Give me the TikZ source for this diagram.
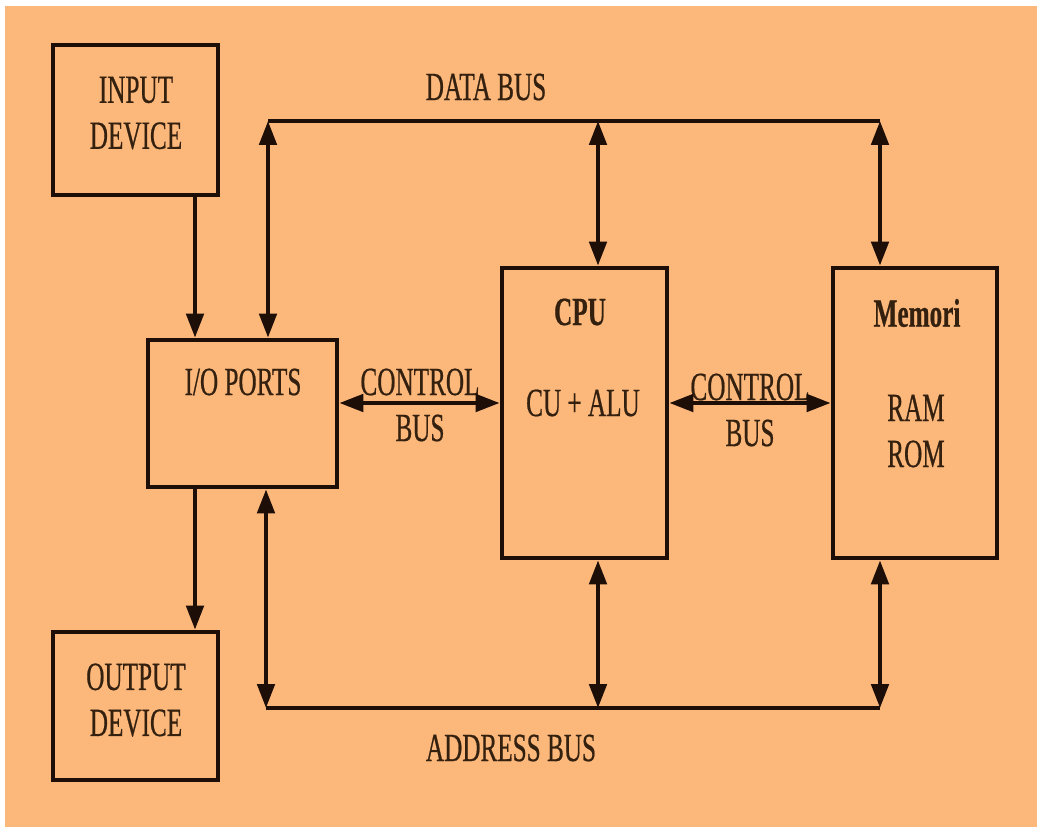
\documentclass[tikz,border=0pt]{standalone}
\usepackage{fontspec}
\setmainfont{Liberation Serif}[FakeStretch=0.63,FakeBold=0.5]
\usepackage{tikz}
\usetikzlibrary{arrows.meta}
\definecolor{paper}{HTML}{FCB77B}
\definecolor{ink}{HTML}{1E0E08}
\definecolor{txt}{HTML}{33200F}
\tikzstyle{box}=[rectangle, draw=ink, line width=3.6pt, inner sep=0pt]
\tikzstyle{lbl}=[text=txt, align=center, inner sep=0pt, font=\fontsize{30}{34.5}\selectfont]
\tikzstyle{bus}=[draw=ink, line width=3pt]
\tikzstyle{link}=[bus, -{Triangle[length=18pt,width=13pt]}]
\tikzstyle{dlink}=[bus, {Triangle[length=18pt,width=13pt]}-{Triangle[length=18pt,width=13pt]}]

\begin{document}
\begin{tikzpicture}[x=0.75pt,y=-0.75pt]
	%The background
	\fill[white] (0,0) rectangle (1039,830);
	\fill[paper] (5,6) rectangle (1037,827);
	\useasboundingbox (0,0) rectangle (1039,830);

	%The units
	\draw (135.5,120) node[box, minimum width=123.75pt, minimum height=112.5pt] (inp) {};
	\draw (242.5,413.5) node[box, minimum width=141.75pt, minimum height=110.25pt] (io) {};
	\draw (584.5,413) node[box, minimum width=123.75pt, minimum height=217.5pt] (cpu) {};
	\draw (915,413) node[box, minimum width=123pt, minimum height=217.5pt] (mem) {};
	\draw (135.5,706) node[box, minimum width=123.75pt, minimum height=111pt] (out) {};

	%The texts
	\draw (136,113) node[lbl] (t-inp) {INPUT\\DEVICE};
	\draw (243,382) node[lbl] (t-io) {I/O PORTS};
	\draw (580,312) node[lbl] (t-cpu) {\textbf{CPU}};
	\draw (583,403) node[lbl] (t-alu) {CU + ALU};
	\draw (917,313) node[lbl] (t-mem) {\textbf{Memori}};
	\draw (916,431) node[lbl] (t-ram) {RAM\\ROM};
	\draw (136,700) node[lbl] (t-out) {OUTPUT\\DEVICE};
	\draw (420,405) node[lbl] (t-c1) {CONTROL\\BUS};
	\draw (750,410) node[lbl] (t-c2) {CONTROL\\BUS};
	\draw (486,87) node[lbl] (t-data) {DATA BUS};
	\draw (511,748) node[lbl] (t-addr) {ADDRESS BUS};

	%The bus corners
	\coordinate (d1) at (268,121);
	\coordinate (d2) at (598,121);
	\coordinate (d3) at (880,121);
	\coordinate (a1) at (266,708);
	\coordinate (a2) at (598,708);
	\coordinate (a3) at (880,708);
	\coordinate (p) at (195,0);
	\coordinate (c) at (0,403);

	%The data bus
	\draw[bus] (d1) -- (d3);
	\draw[dlink] (d1) -- (io.north -| d1);
	\draw[dlink] (d2) -- (cpu.north -| d2);
	\draw[dlink] (d3) -- (mem.north -| d3);

	%The address bus
	\draw[bus] (a1) -- (a3);
	\draw[dlink] (io.south -| a1) -- (a1);
	\draw[dlink] (cpu.south -| a2) -- (a2);
	\draw[dlink] (mem.south -| a3) -- (a3);

	%The control buses
	\draw[dlink] (io.east |- c) -- (cpu.west |- c);
	\draw[dlink] (cpu.east |- c) -- (mem.west |- c);

	%The devices
	\draw[link] (inp.south -| p) -- (io.north -| p);
	\draw[link] (io.south -| p) -- (out.north -| p);
\end{tikzpicture}
\end{document}
